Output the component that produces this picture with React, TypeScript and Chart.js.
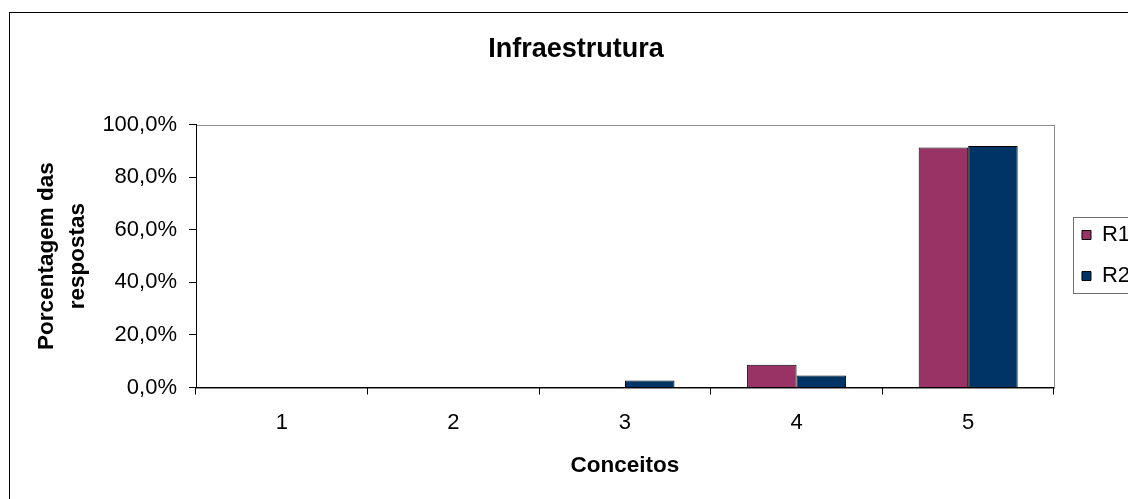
import React, { useEffect, useRef } from 'react';
import { Chart, registerables } from 'chart.js';

Chart.register(...registerables);

// ---- data ----
const categories = ['1', '2', '3', '4', '5'];
const seriesNames = ['R1', 'R2'];
const valuesR1 = [0, 0, 0, 8.7, 91.3];
const valuesR2 = [0, 0, 2.7, 4.6, 91.9];
const yTickValues = [0, 20, 40, 60, 80, 100];
const chartTitle = 'Infraestrutura';
const yAxisTitle = ['Porcentagem das', 'respostas'];
const xAxisTitle = 'Conceitos';

const colorR1 = '#993366';
const colorR2 = '#003366';

const W = 1152;
const H = 511;
const FONT = '"Liberation Sans", Arial, Helvetica, sans-serif';

export default function App() {
  const ref = useRef<HTMLCanvasElement | null>(null);

  useEffect(() => {
    const canvas = ref.current;
    if (!canvas) return;
    Chart.defaults.font.family = FONT;
    Chart.defaults.color = '#000';

    const decor = {
      id: 'decor',
      afterLayout(chart: any) {
        const lg = chart.legend;
        if (lg) {
          lg.left += 9;
          lg.right += 9;
        }
      },
      beforeDraw(chart: any) {
        const ctx = chart.ctx;
        ctx.save();
        ctx.fillStyle = '#fff';
        ctx.fillRect(0, 0, chart.width, chart.height);
        // outer frame
        ctx.strokeStyle = '#000';
        ctx.lineWidth = 1;
        ctx.strokeRect(9.5, 12.5, 1133, 492);
        // plot area border
        const a = chart.chartArea;
        const l = Math.round(a.left) + 0.5;
        const t = Math.round(a.top) + 0.5;
        const r = Math.round(a.right) + 0.5;
        const b = Math.round(a.bottom) + 0.5;
        ctx.strokeStyle = '#8c8c8c';
        ctx.strokeRect(l, t, r - l, b - t);
        ctx.restore();
      },
      afterDraw(chart: any) {
        const lg = chart.legend;
        if (!lg || !lg.legendHitBoxes || !lg.legendHitBoxes.length) return;
        const hb = lg.legendHitBoxes;
        const ctx = chart.ctx;
        const x = Math.round(hb[0].left - 9) + 0.5;
        const top = Math.round(hb[0].top - 7) + 0.5;
        const last = hb[hb.length - 1];
        const bottom = Math.round(last.top + last.height + 6) + 0.5;
        ctx.save();
        ctx.strokeStyle = '#6e6e6e';
        ctx.lineWidth = 1;
        ctx.strokeRect(x, top, 200, bottom - top);
        ctx.restore();
      },
    };

    const chart = new Chart(canvas, {
      type: 'bar',
      data: {
        labels: categories,
        datasets: [
          {
            label: seriesNames[0],
            data: valuesR1,
            backgroundColor: colorR1,
            borderColor: '#000',
            borderWidth: 1,
            categoryPercentage: 0.577,
            barPercentage: 1,
          },
          {
            label: seriesNames[1],
            data: valuesR2,
            backgroundColor: colorR2,
            borderColor: '#000',
            borderWidth: 1,
            categoryPercentage: 0.577,
            barPercentage: 1,
          },
        ],
      },
      options: {
        responsive: false,
        animation: false,
        devicePixelRatio: 1,
        layout: { padding: { left: 20.9, right: 20.9, top: 0, bottom: 0 } },
        plugins: {
          title: {
            display: true,
            text: chartTitle,
            color: '#000',
            font: { size: 27, weight: 'bold', family: FONT },
            padding: { top: 33, bottom: 59.3 },
          },
          legend: {
            display: true,
            position: 'right',
            labels: {
              boxWidth: 9,
              boxHeight: 9,
              padding: 19,
              color: '#000',
              font: { size: 22, family: FONT },
            },
          },
          tooltip: { enabled: false },
        },
        scales: {
          x: {
            afterFit(scale: any) {
              scale.height = 123.5;
            },
            grid: {
              display: true,
              offset: true,
              drawOnChartArea: false,
              drawTicks: true,
              tickLength: 7,
              color: '#000',
            },
            border: { display: true, color: '#000', width: 1 },
            ticks: {
              color: '#000',
              padding: 14.8,
              font: { size: 22, family: FONT },
              maxRotation: 0,
            },
            title: {
              display: true,
              text: xAxisTitle,
              color: '#000',
              font: { size: 22.5, weight: 'bold', family: FONT },
              padding: { top: 16.8, bottom: 31.5 },
            },
          },
          y: {
            min: 0,
            max: 100,
            afterBuildTicks(scale: any) {
              scale.ticks = yTickValues.map((v) => ({ value: v }));
            },
            afterFit(scale: any) {
              scale.width = 196 - 20.9;
            },
            grid: {
              display: true,
              drawOnChartArea: false,
              drawTicks: true,
              tickLength: 7,
              color: '#000',
            },
            border: { display: true, color: '#000', width: 1 },
            ticks: {
              color: '#000',
              padding: 12,
              font: { size: 22, family: FONT },
              callback: (v: any) => Number(v).toFixed(1).replace('.', ',') + '%',
            },
            title: {
              display: true,
              text: yAxisTitle,
              color: '#000',
              font: { size: 22.5, weight: 'bold', family: FONT, lineHeight: 1.4 },
              padding: { top: 10, bottom: 0 },
            },
          },
        },
      },
      plugins: [decor],
    } as any);

    return () => chart.destroy();
  }, []);

  return (
    <div
      style={{
        position: 'fixed',
        left: 0,
        top: 0,
        width: 1128,
        height: 499,
        overflow: 'hidden',
        background: '#fff',
      }}
    >
      <canvas ref={ref} width={W} height={H} style={{ display: 'block', width: W, height: H }} />
    </div>
  );
}
